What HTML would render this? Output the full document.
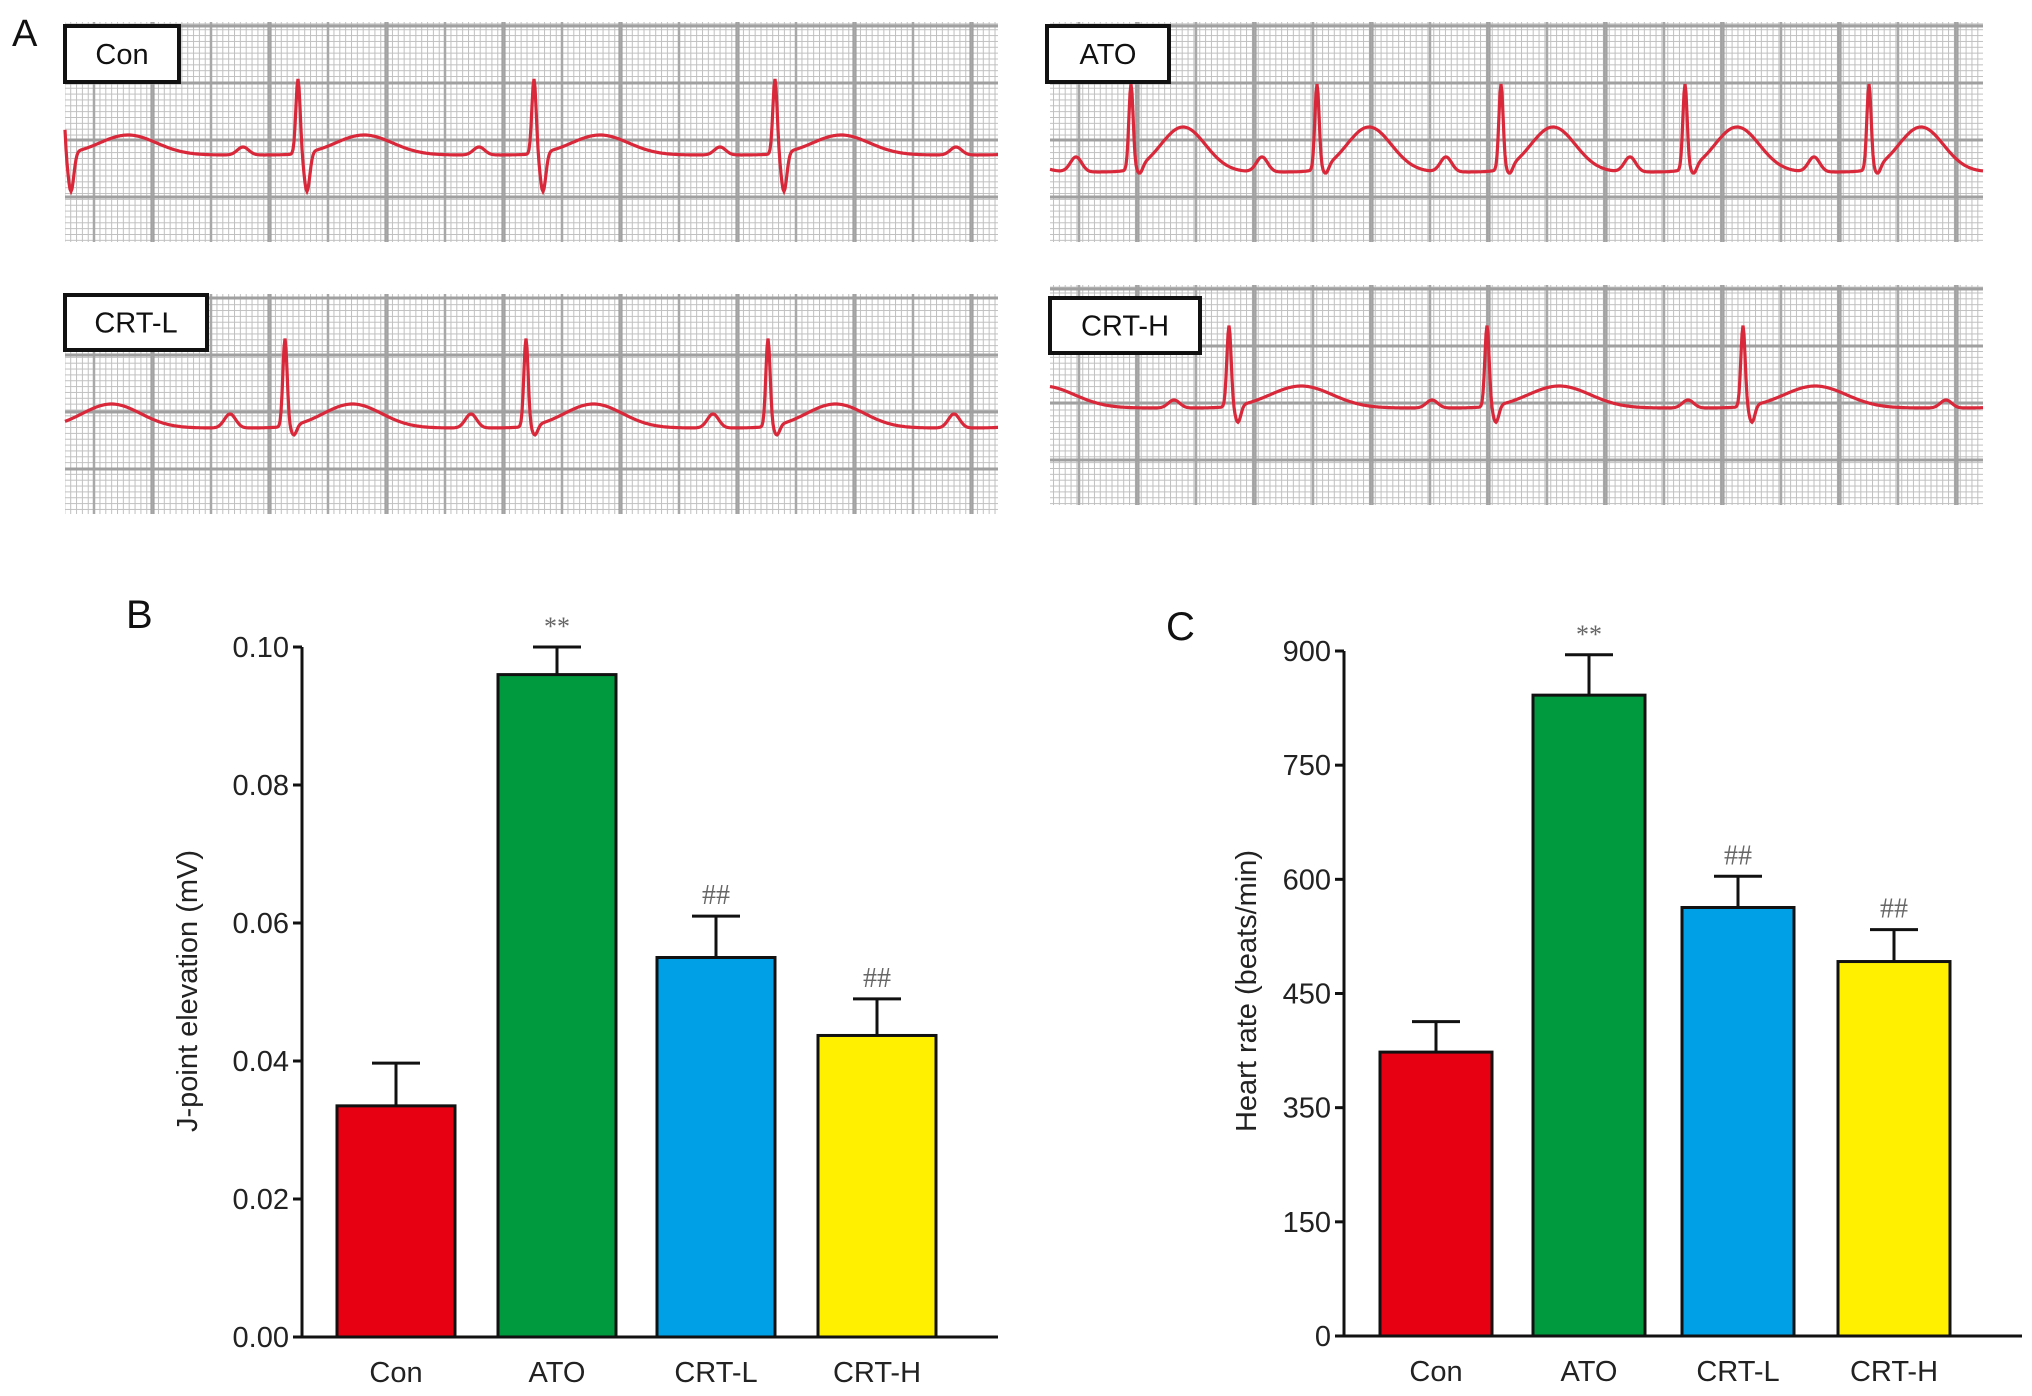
<!DOCTYPE html>
<html><head><meta charset="utf-8"><style>
html,body{margin:0;padding:0;background:#fff;}
svg{display:block;font-family:"Liberation Sans",Arial,sans-serif;}
</style></head><body>
<svg id="fig" width="2032" height="1396" viewBox="0 0 2032 1396" xmlns="http://www.w3.org/2000/svg">
<defs>
<pattern id="minor" width="5.85" height="5.85" patternUnits="userSpaceOnUse"><rect width="5.85" height="5.85" fill="#fff"/><path d="M0 0H5.85M0 0V5.85" stroke="#c0c0c0" stroke-width="2"/></pattern>
</defs>
<text x="12" y="46" font-size="38" fill="#111">A</text>
<g id="ecgs"></g>
<text x="126" y="628" font-size="40" fill="#111">B</text>
<text x="1166" y="640" font-size="40" fill="#111">C</text>
<g id="chartB"></g>
<g id="chartC"></g>
</svg>
<script>
// Chart data
const categories = ["Con","ATO","CRT-L","CRT-H"];
const colors = ["#e60012","#009a3e","#00a0e6","#fff000"];
const jpointValues = [0.0335,0.096,0.055,0.0437];
const jpointErrors = [0.0062,0.004,0.006,0.0053];
const jpointMarks = ["","**","##","##"];
const jpointTicks = [0,0.02,0.04,0.06,0.08,0.10];
const jpointTickLabels = ["0.00","0.02","0.04","0.06","0.08","0.10"];
const hrValues = [373,842,563,492];
const hrErrors = [40,53,41,42];
const hrMarks = ["","**","##","##"];
const hrTicks = [0,150,300,450,600,750,900];
const hrTickLabels = ["0","150","350","450","600","750","900"];

const NS="http://www.w3.org/2000/svg";
function mk(parent,tag,attrs,text){const e=document.createElementNS(NS,tag);for(const k in attrs)e.setAttribute(k,attrs[k]);if(text!==undefined)e.textContent=text;parent.appendChild(e);return e;}

function drawChart(g,cfg){
  const y=v=>cfg.y0-(v-cfg.vmin)/(cfg.vmax-cfg.vmin)*(cfg.y0-cfg.y1);
  cfg.ticks.forEach((t,i)=>{
    const tk=mk(g,'line',{x1:cfg.ax-9,x2:cfg.ax,y1:y(t),y2:y(t),stroke:'#111','stroke-width':3});
    
    
    const lb=mk(g,'text',{x:cfg.ax-13,y:y(t)+10,'font-size':29,'text-anchor':'end',fill:'#222'},cfg.tickLabels[i]);
    
    
  });
  cfg.values.forEach((v,i)=>{
    const x=cfg.bx[i], w=cfg.bw;
    const top=y(v), et=y(v+cfg.errors[i]);
    const b=mk(g,'rect',{x:x,y:top,width:w,height:cfg.y0-top,fill:cfg.colors[i],stroke:'#111','stroke-width':3});
    
    
    const cx=x+w/2;
    const e=mk(g,'path',{d:`M${cx} ${top}V${et}M${cx-24} ${et}H${cx+24}`,stroke:'#111','stroke-width':3,fill:'none'});
    
    
    if(cfg.marks[i]){
      const m=mk(g,'text',{x:cx,y:et-12,'font-size':cfg.marks[i]=='**'?26:28,'text-anchor':'middle',fill:'#666','font-family':'Liberation Serif, serif'},cfg.marks[i]);
      
      
    }
    const c=mk(g,'text',{x:cx,y:cfg.y0+45,'font-size':29,'text-anchor':'middle',fill:'#222'},cfg.cats[i]);
    
    
  });
  const ax=mk(g,'path',{d:`M${cfg.ax} ${cfg.y1}V${cfg.y0}H${cfg.xend}`,stroke:'#111','stroke-width':3,fill:'none'});
  
  
  const t=mk(g,'text',{x:0,y:0,'font-size':29,'text-anchor':'middle',fill:'#222',transform:`translate(${cfg.tx},${cfg.ty}) rotate(-90)`},cfg.title);
  
  
}
drawChart(document.getElementById('chartB'),{ax:302,y0:1337,y1:647,vmin:0,vmax:0.10,xend:998,bx:[337,498,657,818],bw:118,
  values:jpointValues,errors:jpointErrors,marks:jpointMarks,ticks:jpointTicks,tickLabels:jpointTickLabels,cats:categories,colors:colors,
  title:"J-point elevation (mV)",tx:197,ty:991});
drawChart(document.getElementById('chartC'),{ax:1344,y0:1336,y1:651,vmin:0,vmax:900,xend:2022,bx:[1380,1533,1682,1838],bw:112,
  values:hrValues,errors:hrErrors,marks:hrMarks,ticks:hrTicks,tickLabels:hrTickLabels,cats:categories,colors:colors,
  title:"Heart rate (beats/min)",tx:1256,ty:991});

// ECG panels
const ecgs=[
 {name:"Con",x:65,y:22,w:933,h:220,box:[65,26,114,56],beats:[298,534,775],base:155,r:80,s:194,t:20,p:8},
 {name:"ATO",x:1050,y:22,w:933,h:220,box:[1047,26,122,56],beats:[1131,1317,1501,1685,1869],base:172,r:87,s:180,t:45,p:15},
 {name:"CRT-L",x:65,y:294,w:933,h:220,box:[65,295,142,55],beats:[285,526,768],base:428,r:340,s:438,t:24,p:14},
 {name:"CRT-H",x:1050,y:285,w:933,h:220,box:[1050,298,150,55],beats:[1229,1487,1743],base:408,r:327,s:425,t:22,p:8}
];
const eg=document.getElementById('ecgs');
ecgs.forEach(e=>{
  const g=mk(eg,'g',{});
  
  
  mk(g,'rect',{x:e.x,y:e.y,width:e.w,height:e.h,fill:'url(#minor)'});
  let d='';
  for(let xx=e.x+29;xx<e.x+e.w;xx+=58.5){const major=Math.round((xx-e.x-29)/58.5)%2==1;d+=`M${xx} ${e.y}V${e.y+e.h}`; if(major) mk(g,'line',{x1:xx,x2:xx,y1:e.y,y2:e.y+e.h,stroke:'#8f8f8f','stroke-width':4});}
  mk(g,'path',{d:d,stroke:'#a8a8a8','stroke-width':2.5,fill:'none'});
  let dh='';
  for(let yy=e.y+4;yy<e.y+e.h;yy+=57){dh+=`M${e.x} ${yy}H${e.x+e.w}`;}
  mk(g,'path',{d:dh,stroke:'#a0a0a0','stroke-width':3,fill:'none'});
  const pts=[];
  const gap=e.beats.length>1?e.beats[1]-e.beats[0]:240;
  for(let x=e.x;x<=e.x+e.w;x+=1){
    let v=e.base;
    e.beats.concat([e.beats[0]-gap,e.beats[e.beats.length-1]+gap]).forEach(b=>{
      const dx=x-b;
      v-=e.p*Math.exp(-Math.pow((dx+55)/8,2));
      v-=(e.base-e.r)*Math.exp(-Math.pow((dx)/3,2));
      v+=(e.s-e.base)*Math.exp(-Math.pow((dx-9)/4,2));
      v-=e.t*Math.exp(-Math.pow((dx-gap*0.28)/(gap*0.17),2));
    });
    pts.push(x+','+v.toFixed(1));
  }
  mk(g,'polyline',{points:pts.join(' '),fill:'none',stroke:'#d8283a','stroke-width':3.2});
  const bx=mk(g,'rect',{x:e.box[0],y:e.box[1],width:e.box[2],height:e.box[3],fill:'#fff',stroke:'#111','stroke-width':4});
  
  
  const tx=mk(g,'text',{x:e.box[0]+e.box[2]/2,y:e.box[1]+e.box[3]/2+10,'font-size':29,'text-anchor':'middle',fill:'#111'},e.name);
  
  
});
</script>
</body></html>
